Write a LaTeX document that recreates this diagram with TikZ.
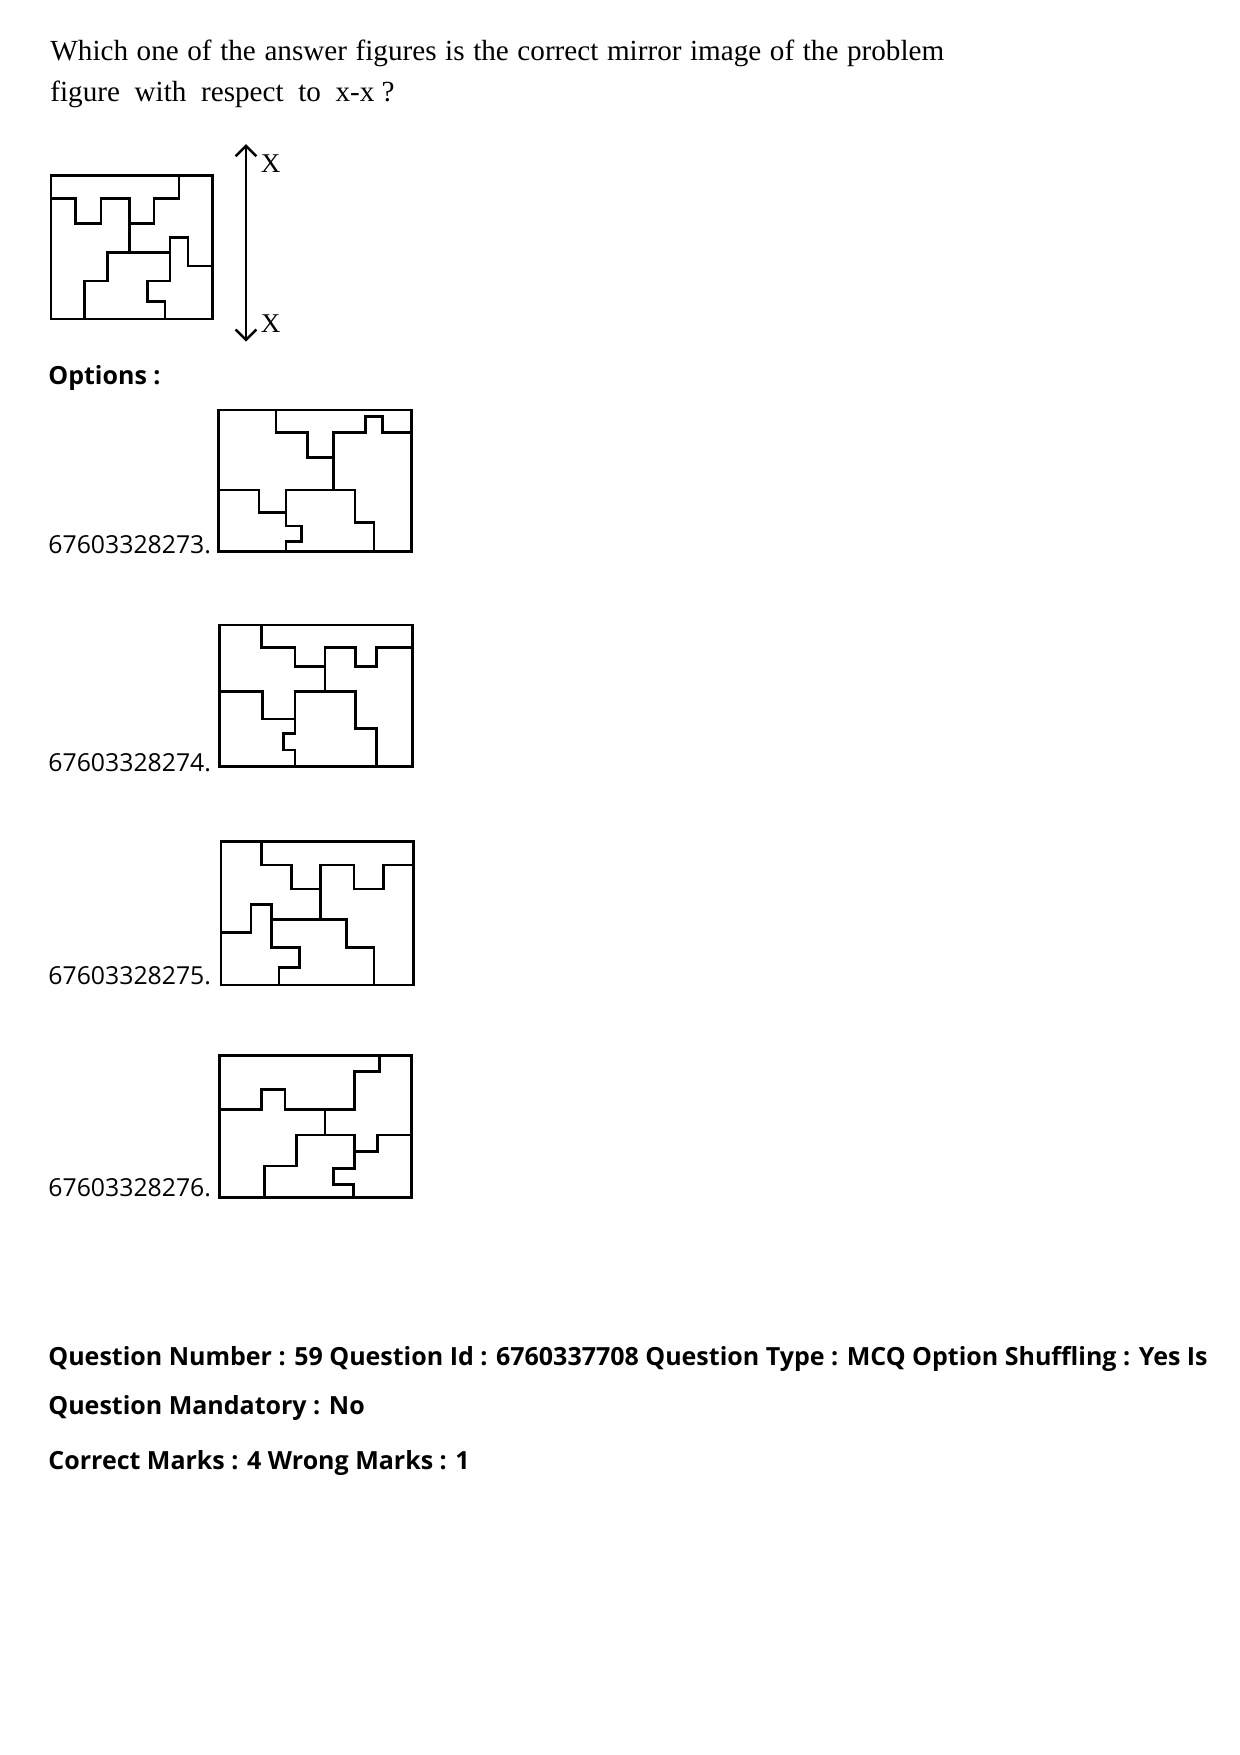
\documentclass[tikz,border=0pt]{standalone}
\usepackage{fontspec}
\usetikzlibrary{arrows.meta}
\setmainfont{Liberation Serif}
\newfontfamily\noto{Open Sans}
\begin{document}
\begin{tikzpicture}[x=0.48pt,y=-0.48pt,
  fig/.style={line width=1.2pt, line join=miter},
  optnum/.style={anchor=base west, inner sep=0pt, font=\noto\fontsize{11.9}{13}\selectfont},
  info/.style={anchor=base west, inner sep=0pt, font=\noto\bfseries\fontsize{12}{14}\selectfont},
  qtext/.style={anchor=base west, inner sep=0pt, font=\fontsize{14}{17}\selectfont}]
\useasboundingbox[fill=white] (0,0) rectangle (1240,1755);
\node[qtext] (q1) at (50,60) {\makebox[429pt][s]{Which one of the answer figures is the correct mirror image of the problem}};
\node[qtext] (q2) at (50,101) {figure\ \ with\ \ respect\ \ to\ \ x-x ?};
% problem figure
\begin{scope}[shift={(30,120)},scale=1/3,fig]
\draw (63,167) rectangle (548,597);
\draw (63,235)--(137,235)--(137,310)--(213,310)--(213,235)--(298,235)--(298,310)--(372,310)--(372,235)--(447,235)--(447,167);
\draw (298,310)--(298,398);
\draw (163,597)--(163,483)--(233,483)--(233,398)--(420,398);
\draw (420,398)--(420,352)--(474,352)--(474,438)--(548,438);
\draw (420,398)--(420,483)--(352,483)--(352,545)--(405,545)--(405,597);
\coordinate (at) at (648,72); \coordinate (ab) at (648,665);
\draw[{Straight Barb[length=5pt,width=10pt,line width=1.2pt]}-{Straight Barb[length=5pt,width=10pt,line width=1.2pt]}, line width=1.2pt] (ab)--(at);
\node[font=\fontsize{13}{15}\selectfont, inner sep=0pt] (x1) at (722,132) {X};
\node[font=\fontsize{13}{15}\selectfont, inner sep=0pt] (x2) at (722,612) {X};
\end{scope}
\node[info] (opt) at (48,384) {Options :};
% option 1
\node[optnum] (n1) at (48,553) {67603328273.};
\begin{scope}[shift={(200,395)},scale=1/3,fig]
\draw (55,45) rectangle (635,470);
\draw (228,45)--(228,113)--(323,113)--(323,187)--(400,187)--(400,113)--(497,113)--(497,65)--(547,65)--(547,113)--(635,113);
\draw (400,187)--(400,285);
\draw (55,285)--(177,285)--(177,352)--(258,352);
\draw (258,470)--(258,440)--(305,440)--(305,393)--(258,393)--(258,285)--(465,285)--(465,383)--(522,383)--(522,470);
\end{scope}
% option 2
\node[optnum] (n2) at (48,771) {67603328274.};
\begin{scope}[shift={(200,610)},scale=1/3,fig]
\draw (58,45) rectangle (638,470);
\draw (185,45)--(185,113)--(285,113)--(285,170)--(375,170)--(375,113)--(467,113)--(467,170)--(530,170)--(530,113)--(638,113);
\draw (375,170)--(375,245);
\draw (58,245)--(187,245)--(187,327)--(285,327);
\draw (285,470)--(285,420)--(250,420)--(250,370)--(285,370)--(285,245)--(467,245)--(467,355)--(530,355)--(530,470);
\end{scope}
% option 3
\node[optnum] (n3) at (48,984) {67603328275.};
\begin{scope}[shift={(200,825)},scale=1/3,fig]
\draw (63,50) rectangle (640,480);
\draw (185,50)--(185,120)--(275,120)--(275,192)--(362,192)--(362,120)--(462,120)--(462,192)--(550,192)--(550,120)--(640,120);
\draw (362,192)--(362,283);
\draw (63,323)--(153,323)--(153,238)--(215,238)--(215,368)--(298,368)--(298,428)--(237,428)--(237,480);
\draw (215,283)--(440,283)--(440,367)--(522,367)--(522,480);
\end{scope}
% option 4
\node[optnum] (n4) at (48,1196) {67603328276.};
\begin{scope}[shift={(200,1040)},scale=1/3,fig]
\draw (58,47) rectangle (635,473);
\draw (538,47)--(538,95)--(463,95)--(463,208)--(255,208)--(255,148)--(185,148)--(185,208)--(58,208);
\draw (375,208)--(375,285);
\draw (193,473)--(193,378)--(290,378)--(290,285)--(463,285)--(463,385)--(400,385)--(400,433)--(460,433)--(460,473);
\draw (463,335)--(532,335)--(532,285)--(635,285);
\end{scope}
\node[info] (i1) at (48,1365) {Question Number : 59 Question Id : 6760337708 Question Type : MCQ Option Shuffling : Yes Is};
\node[info] (i2) at (48,1414) {Question Mandatory : No};
\node[info] (i3) at (48,1469) {Correct Marks : 4 Wrong Marks : 1};
\end{tikzpicture}
\end{document}
